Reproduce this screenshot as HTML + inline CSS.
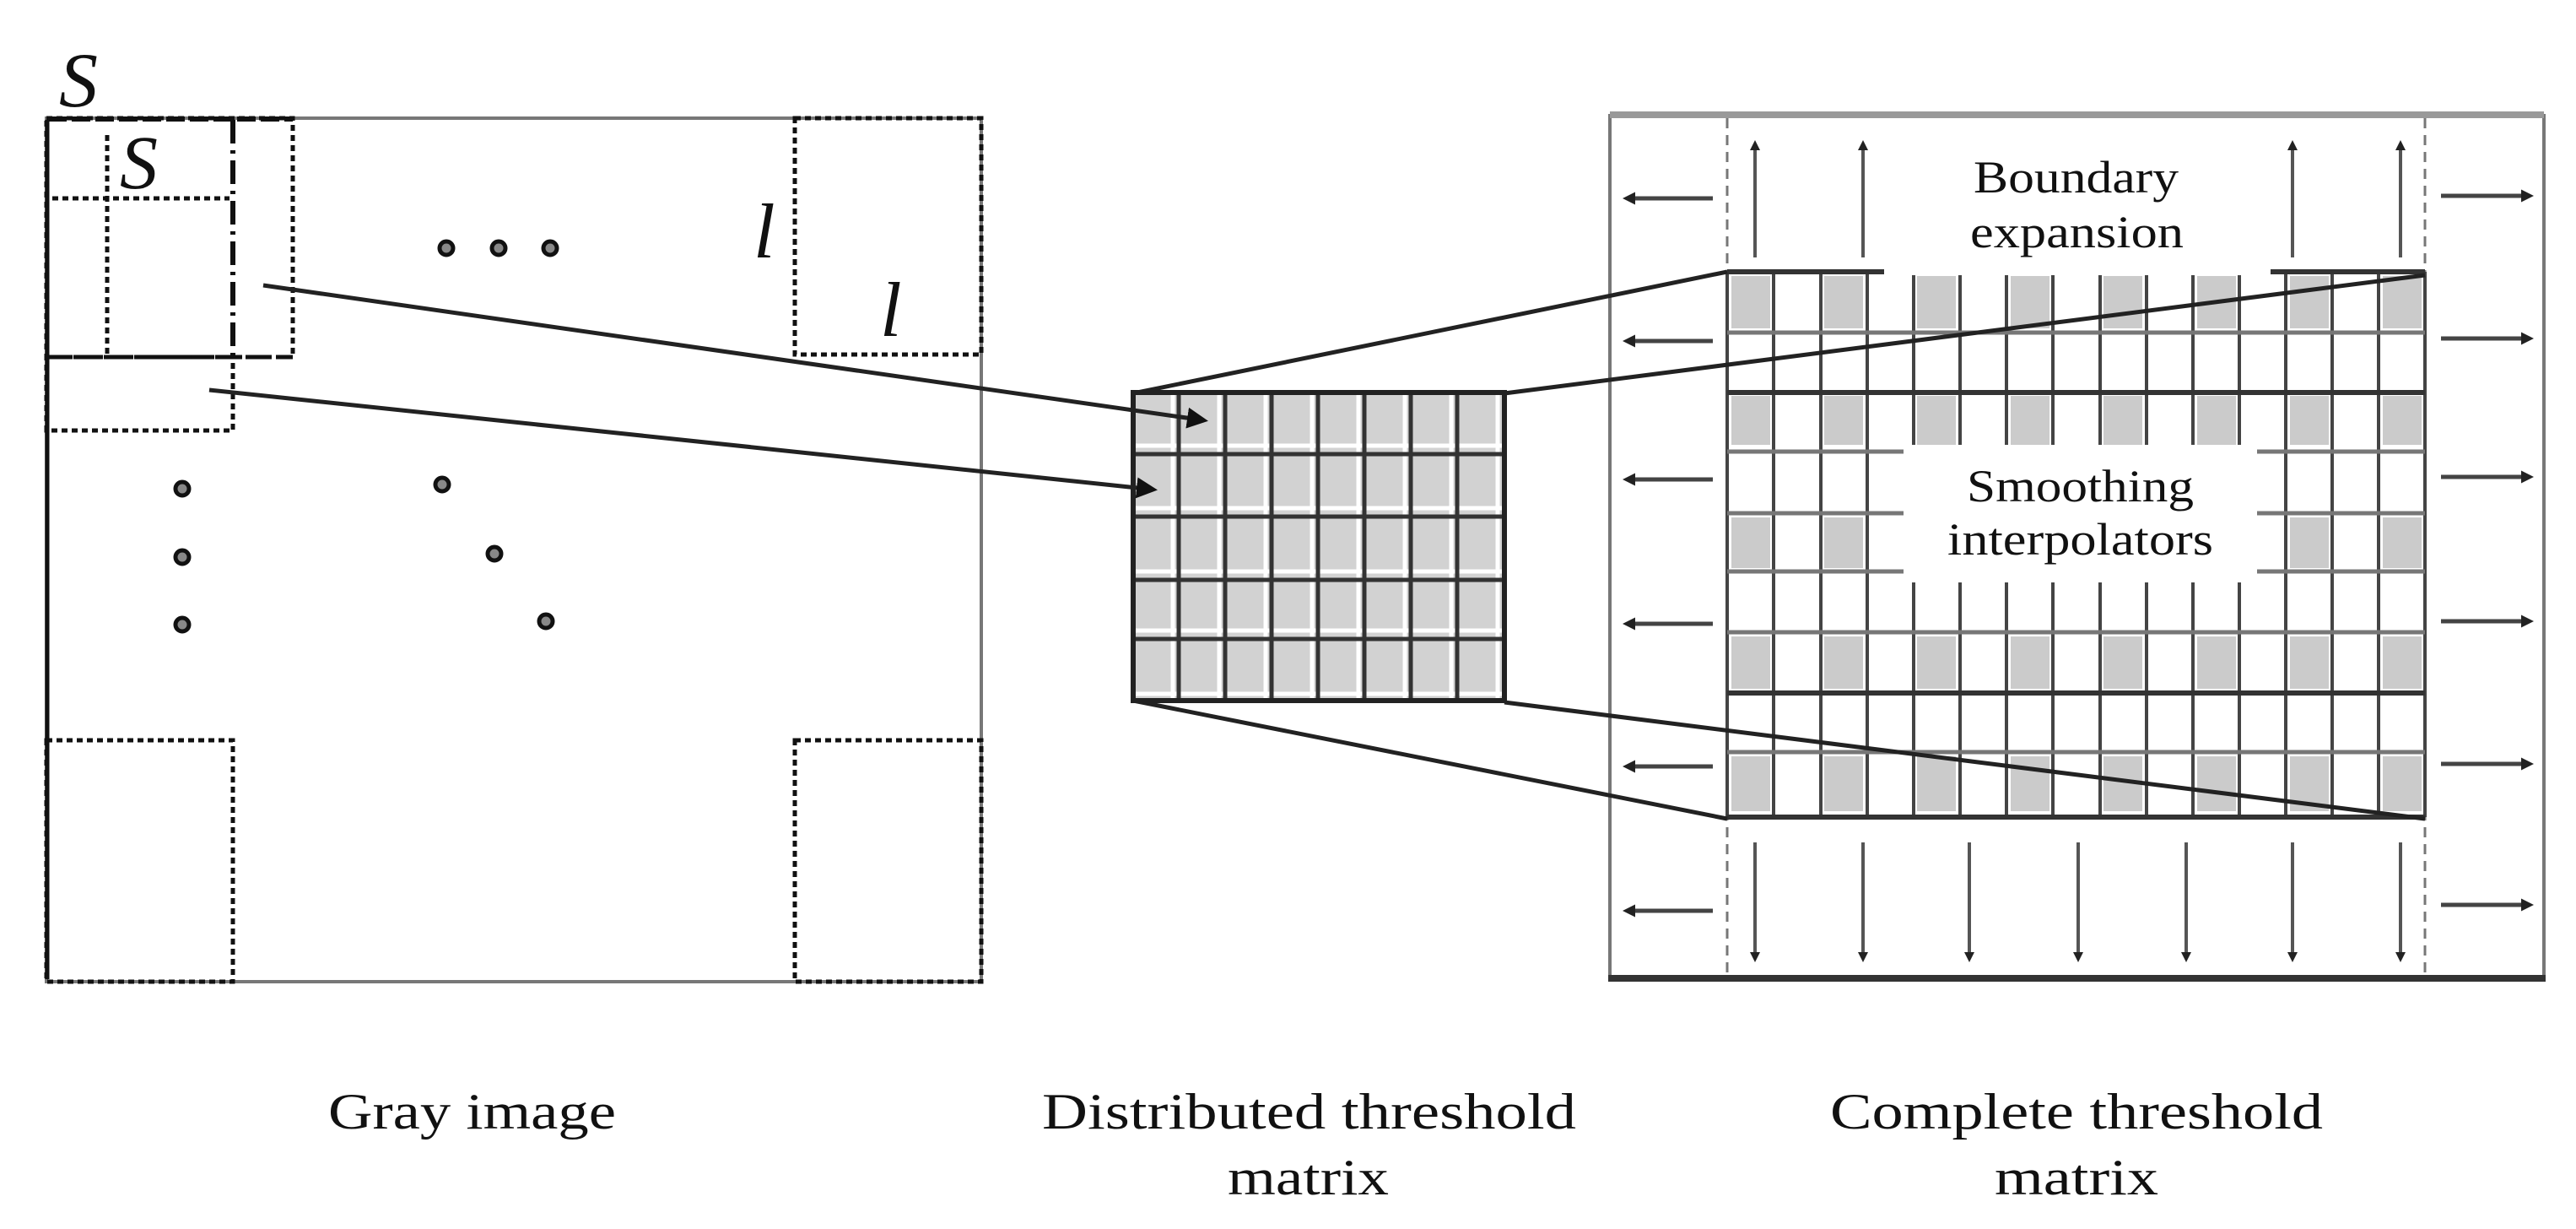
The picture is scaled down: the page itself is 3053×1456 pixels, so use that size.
<!DOCTYPE html>
<html><head><meta charset="utf-8"><style>html,body{margin:0;padding:0;background:#fff}svg{display:block}</style></head><body>
<svg width="3053" height="1456" viewBox="0 0 3053 1456" xmlns="http://www.w3.org/2000/svg">
<defs>
<marker id="ah" markerWidth="5" markerHeight="5" refX="4" refY="2.5" orient="auto" markerUnits="strokeWidth"><path d="M0,0 L5,2.5 L0,5 z" fill="#111"/></marker>
<marker id="sh" markerWidth="3" markerHeight="3" refX="2" refY="1.5" orient="auto" markerUnits="strokeWidth"><path d="M0,0 L3,1.5 L0,3 z" fill="#222"/></marker>
</defs>
<rect width="3053" height="1456" fill="#fff"/>

<!-- LEFT: Gray image -->
<rect x="55" y="140" width="1108" height="1023" fill="none" stroke="#777" stroke-width="4"/>
<g fill="none" stroke="#111" stroke-width="5" stroke-dasharray="7,5">
<rect x="55" y="140" width="292" height="283"/>
<rect x="55" y="423" width="221" height="87"/>
<line x1="127" y1="160" x2="127" y2="420"/>
<line x1="62" y1="235" x2="272" y2="235"/>
<rect x="942" y="140" width="221" height="280"/>
<rect x="55" y="877" width="221" height="286"/>
<rect x="942" y="877" width="221" height="286"/>
</g>
<line x1="276" y1="142" x2="276" y2="423" stroke="#111" stroke-width="6" stroke-dasharray="28,8,4,8"/>
<line x1="57" y1="141" x2="347" y2="141" stroke="#111" stroke-width="6" stroke-dasharray="22,6"/>
<line x1="57" y1="423" x2="347" y2="423" stroke="#111" stroke-width="5" stroke-dasharray="26,8"/>
<line x1="56" y1="142" x2="56" y2="1160" stroke="#111" stroke-width="5"/>
<g font-family="Liberation Serif, serif" font-style="italic" fill="#111">
<text x="70" y="126" font-size="92">S</text>
<text x="142" y="223" font-size="90">S</text>
<text x="893" y="305" font-size="92">l</text>
<text x="1043" y="398" font-size="92">l</text>
</g>
<g fill="#888" stroke="#111" stroke-width="5">
<circle cx="529" cy="294" r="8"/><circle cx="591" cy="294" r="8"/><circle cx="652" cy="294" r="8"/>
<circle cx="216" cy="579" r="8"/><circle cx="216" cy="660" r="8"/><circle cx="216" cy="740" r="8"/>
<circle cx="524" cy="574" r="8"/><circle cx="586" cy="656" r="8"/><circle cx="647" cy="736" r="8"/>
</g>

<!-- MIDDLE: distributed threshold matrix -->
<g>
<rect x="1343" y="465" width="440" height="365" fill="#d2d2d2"/>
<g stroke="#fff" stroke-width="5">
<line x1="1343" y1="528" x2="1783" y2="528"/><line x1="1343" y1="602" x2="1783" y2="602"/><line x1="1343" y1="677" x2="1783" y2="677"/><line x1="1343" y1="747" x2="1783" y2="747"/><line x1="1343" y1="822" x2="1783" y2="822"/>
<line x1="1390" y1="465" x2="1390" y2="830"/><line x1="1445" y1="465" x2="1445" y2="830"/><line x1="1500" y1="465" x2="1500" y2="830"/><line x1="1555" y1="465" x2="1555" y2="830"/><line x1="1610" y1="465" x2="1610" y2="830"/><line x1="1665" y1="465" x2="1665" y2="830"/><line x1="1720" y1="465" x2="1720" y2="830"/><line x1="1775" y1="465" x2="1775" y2="830"/>
</g>
<g stroke="#333" stroke-width="5">
<line x1="1343" y1="538" x2="1783" y2="538"/><line x1="1343" y1="612" x2="1783" y2="612"/><line x1="1343" y1="687" x2="1783" y2="687"/><line x1="1343" y1="757" x2="1783" y2="757"/>
<line x1="1397" y1="465" x2="1397" y2="830"/><line x1="1452" y1="465" x2="1452" y2="830"/><line x1="1507" y1="465" x2="1507" y2="830"/><line x1="1562" y1="465" x2="1562" y2="830"/><line x1="1617" y1="465" x2="1617" y2="830"/><line x1="1672" y1="465" x2="1672" y2="830"/><line x1="1727" y1="465" x2="1727" y2="830"/>
</g>
<rect x="1343" y="465" width="440" height="365" fill="none" stroke="#222" stroke-width="6"/>
</g>
<line x1="312" y1="338" x2="1427" y2="498" stroke="#222" stroke-width="5" marker-end="url(#ah)"/>
<line x1="248" y1="462" x2="1367" y2="580" stroke="#222" stroke-width="5" marker-end="url(#ah)"/>

<!-- RIGHT: complete threshold matrix -->
<rect x="1908" y="137" width="1107" height="1021" fill="none" stroke="#777" stroke-width="4"/>
<line x1="1908" y1="136" x2="3015" y2="136" stroke="#999" stroke-width="8"/>
<line x1="1906" y1="1159" x2="3017" y2="1159" stroke="#333" stroke-width="8"/>
<line x1="2047" y1="140" x2="2047" y2="1155" stroke="#777" stroke-width="3" stroke-dasharray="12,8"/>
<line x1="2874" y1="140" x2="2874" y2="1155" stroke="#777" stroke-width="3" stroke-dasharray="12,8"/>

<g id="grid">
<g fill="#cbcbcb">
<rect x="2052" y="327" width="46" height="62"/><rect x="2162" y="327" width="46" height="62"/><rect x="2272" y="327" width="46" height="62"/><rect x="2383" y="327" width="46" height="62"/><rect x="2493" y="327" width="46" height="62"/><rect x="2604" y="327" width="46" height="62"/><rect x="2714" y="327" width="46" height="62"/><rect x="2824" y="327" width="46" height="62"/>
<rect x="2052" y="469" width="46" height="58"/><rect x="2162" y="469" width="46" height="58"/><rect x="2272" y="469" width="46" height="58"/><rect x="2383" y="469" width="46" height="58"/><rect x="2493" y="469" width="46" height="58"/><rect x="2604" y="469" width="46" height="58"/><rect x="2714" y="469" width="46" height="58"/><rect x="2824" y="469" width="46" height="58"/>
<rect x="2052" y="613" width="46" height="60"/><rect x="2162" y="613" width="46" height="60"/><rect x="2714" y="613" width="46" height="60"/><rect x="2824" y="613" width="46" height="60"/>
<rect x="2052" y="754" width="46" height="62"/><rect x="2162" y="754" width="46" height="62"/><rect x="2272" y="754" width="46" height="62"/><rect x="2383" y="754" width="46" height="62"/><rect x="2493" y="754" width="46" height="62"/><rect x="2604" y="754" width="46" height="62"/><rect x="2714" y="754" width="46" height="62"/><rect x="2824" y="754" width="46" height="62"/>
<rect x="2052" y="896" width="46" height="65"/><rect x="2162" y="896" width="46" height="65"/><rect x="2272" y="896" width="46" height="65"/><rect x="2383" y="896" width="46" height="65"/><rect x="2493" y="896" width="46" height="65"/><rect x="2604" y="896" width="46" height="65"/><rect x="2714" y="896" width="46" height="65"/><rect x="2824" y="896" width="46" height="65"/>
</g>
<g stroke="#444" stroke-width="4">
<line x1="2047" y1="322" x2="2047" y2="968"/><line x1="2102" y1="322" x2="2102" y2="968"/><line x1="2158" y1="322" x2="2158" y2="968"/><line x1="2213" y1="322" x2="2213" y2="968"/><line x1="2268" y1="322" x2="2268" y2="968"/><line x1="2323" y1="322" x2="2323" y2="968"/><line x1="2378" y1="322" x2="2378" y2="968"/><line x1="2433" y1="322" x2="2433" y2="968"/><line x1="2489" y1="322" x2="2489" y2="968"/><line x1="2544" y1="322" x2="2544" y2="968"/><line x1="2599" y1="322" x2="2599" y2="968"/><line x1="2654" y1="322" x2="2654" y2="968"/><line x1="2709" y1="322" x2="2709" y2="968"/><line x1="2764" y1="322" x2="2764" y2="968"/><line x1="2819" y1="322" x2="2819" y2="968"/><line x1="2874" y1="322" x2="2874" y2="968"/>
</g>
<g stroke="#777" stroke-width="5">
<line x1="2047" y1="394" x2="2874" y2="394"/><line x1="2047" y1="535" x2="2874" y2="535"/><line x1="2047" y1="608" x2="2874" y2="608"/><line x1="2047" y1="677" x2="2874" y2="677"/><line x1="2047" y1="749" x2="2874" y2="749"/><line x1="2047" y1="891" x2="2874" y2="891"/>
</g>
<g stroke="#333" stroke-width="6">
<line x1="2047" y1="322" x2="2874" y2="322"/><line x1="2047" y1="465" x2="2874" y2="465"/><line x1="2047" y1="821" x2="2874" y2="821"/><line x1="2047" y1="968" x2="2874" y2="968"/>
</g>
</g>
<rect x="2233" y="150" width="458" height="176" fill="#fff"/>
<rect x="2256" y="527" width="419" height="163" fill="#fff"/>

<g stroke="#222" stroke-width="5">
<line x1="1343" y1="466" x2="2047" y2="322"/>
<line x1="1783" y1="466" x2="2874" y2="326"/>
<line x1="1343" y1="830" x2="2047" y2="970"/>
<line x1="1783" y1="832" x2="2874" y2="970"/>
</g>

<g stroke="#444" stroke-width="5">
<line x1="2030" y1="235" x2="1928" y2="235" marker-end="url(#sh)"/><line x1="2030" y1="404" x2="1928" y2="404" marker-end="url(#sh)"/><line x1="2030" y1="568" x2="1928" y2="568" marker-end="url(#sh)"/><line x1="2030" y1="739" x2="1928" y2="739" marker-end="url(#sh)"/><line x1="2030" y1="908" x2="1928" y2="908" marker-end="url(#sh)"/><line x1="2030" y1="1079" x2="1928" y2="1079" marker-end="url(#sh)"/>
<line x1="2893" y1="232" x2="2998" y2="232" marker-end="url(#sh)"/><line x1="2893" y1="401" x2="2998" y2="401" marker-end="url(#sh)"/><line x1="2893" y1="565" x2="2998" y2="565" marker-end="url(#sh)"/><line x1="2893" y1="736" x2="2998" y2="736" marker-end="url(#sh)"/><line x1="2893" y1="905" x2="2998" y2="905" marker-end="url(#sh)"/><line x1="2893" y1="1072" x2="2998" y2="1072" marker-end="url(#sh)"/>
</g>
<g stroke="#555" stroke-width="4">
<line x1="2080" y1="305" x2="2080" y2="170" marker-end="url(#sh)"/><line x1="2208" y1="305" x2="2208" y2="170" marker-end="url(#sh)"/><line x1="2717" y1="305" x2="2717" y2="170" marker-end="url(#sh)"/><line x1="2845" y1="305" x2="2845" y2="170" marker-end="url(#sh)"/>
<line x1="2080" y1="998" x2="2080" y2="1136" marker-end="url(#sh)"/><line x1="2208" y1="998" x2="2208" y2="1136" marker-end="url(#sh)"/><line x1="2334" y1="998" x2="2334" y2="1136" marker-end="url(#sh)"/><line x1="2463" y1="998" x2="2463" y2="1136" marker-end="url(#sh)"/><line x1="2591" y1="998" x2="2591" y2="1136" marker-end="url(#sh)"/><line x1="2717" y1="998" x2="2717" y2="1136" marker-end="url(#sh)"/><line x1="2845" y1="998" x2="2845" y2="1136" marker-end="url(#sh)"/>
</g>

<g font-family="Liberation Serif, serif" fill="#111" font-size="54">
<text x="2339" y="228" textLength="243" lengthAdjust="spacingAndGlyphs">Boundary</text>
<text x="2335" y="293" textLength="253" lengthAdjust="spacingAndGlyphs">expansion</text>
<text x="2331" y="594" textLength="269" lengthAdjust="spacingAndGlyphs">Smoothing</text>
<text x="2308" y="657" textLength="315" lengthAdjust="spacingAndGlyphs">interpolators</text>
</g>

<g font-family="Liberation Serif, serif" fill="#111" font-size="60">
<text x="389" y="1337" textLength="341" lengthAdjust="spacingAndGlyphs">Gray image</text>
<text x="1235" y="1337" textLength="633" lengthAdjust="spacingAndGlyphs">Distributed threshold</text>
<text x="1455" y="1415" textLength="191" lengthAdjust="spacingAndGlyphs">matrix</text>
<text x="2169" y="1337" textLength="584" lengthAdjust="spacingAndGlyphs">Complete threshold</text>
<text x="2364" y="1415" textLength="194" lengthAdjust="spacingAndGlyphs">matrix</text>
</g>
</svg>
</body></html>
